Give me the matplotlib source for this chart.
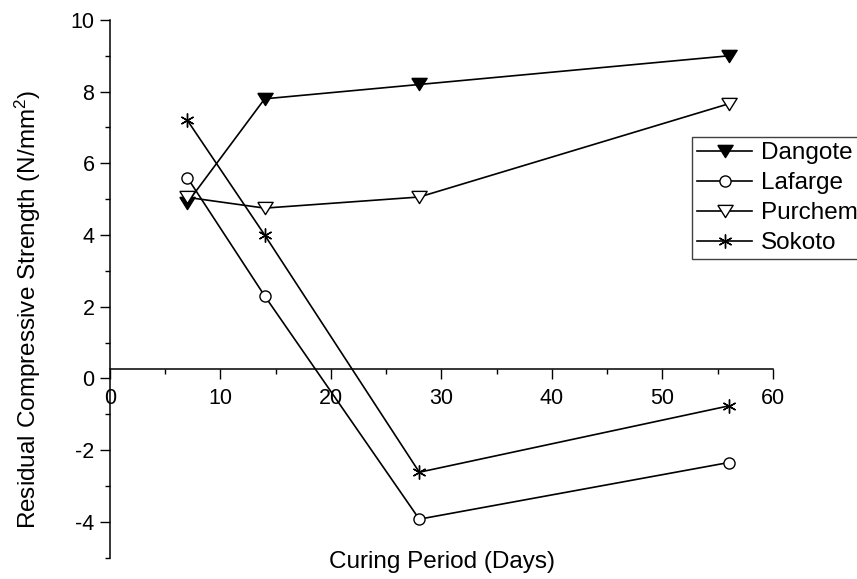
import numpy as np
import matplotlib
matplotlib.use('Agg')
import matplotlib.pyplot as plt
from matplotlib.ticker import MultipleLocator

plt.rcParams['font.family'] = ['Liberation Sans', 'DejaVu Sans']
plt.rcParams['mathtext.fontset'] = 'custom'
plt.rcParams['mathtext.rm'] = 'Liberation Sans'
plt.rcParams['mathtext.it'] = 'Liberation Sans:italic'
plt.rcParams['axes.unicode_minus'] = False

days = [7, 14, 28, 56]
dangote = [4.9, 7.8, 8.2, 9.0]
lafarge = [5.6, 2.3, -3.93, -2.35]
purchem = [5.05, 4.75, 5.06, 7.66]
sokoto = [7.2, 4.0, -2.62, -0.77]

names = ['Dangote', 'Lafarge', 'Purchem', 'Sokoto']
x_ticks = [0, 10, 20, 30, 40, 50, 60]
y_ticks = [-4, -2, 0, 2, 4, 6, 8, 10]

# closed down-pointing triangle, a bit wider than tall
tri = [(-1, 0.8), (1, 0.8), (0, -0.8), (-1, 0.8)]

fig = plt.figure(figsize=(8.57, 5.79), dpi=100)
ax = fig.add_axes([0.1284, 0.0371, 0.7733, 0.9284])

ax.plot(days, dangote, color='black', lw=1.2, marker=tri, ms=11, mfc='black', mec='black', mew=1, label=names[0])
ax.plot(days, lafarge, color='black', lw=1.2, marker='o', ms=8, mfc='white', mec='black', mew=1, label=names[1])
ax.plot(days, purchem, color='black', lw=1.2, marker=tri, ms=11, mfc='white', mec='black', mew=1, label=names[2])
ax.plot(days, sokoto, color='black', lw=1.2, marker=(6, 2, 0), ms=10, mfc='black', mec='black', mew=1, label=names[3])

ax.set_xlim(0, 60)
ax.set_ylim(-5, 10)
ax.spines['top'].set_visible(False)
ax.spines['right'].set_visible(False)
ax.spines['bottom'].set_position(('data', 0.25))
ax.spines['bottom'].set_linewidth(1.1)
ax.spines['left'].set_linewidth(1.1)

ax.set_xticks(x_ticks)
ax.set_yticks(y_ticks)
ax.xaxis.set_minor_locator(MultipleLocator(5))
ax.yaxis.set_minor_locator(MultipleLocator(1))
ax.tick_params(which='major', direction='out', length=7.2, width=1, labelsize=15.5)
ax.tick_params(axis='x', which='major', pad=6)
ax.tick_params(axis='y', which='major', pad=4)
ax.tick_params(which='minor', direction='out', length=3.5, width=1)

fig.text(442/857, 1-562/579, 'Curing Period (Days)', ha='center', va='center', fontsize=17.5)
fig.text(28/857, 1-309/579, 'Residual Compressive Strength (N/mm$^2$)', ha='center', va='center',
         rotation=90, fontsize=17.5)

leg = ax.legend(loc='upper left', bbox_to_anchor=(691.7/857, 1-137.3/579), bbox_transform=fig.transFigure,
                fontsize=17.5, numpoints=1, handlelength=2.3, handletextpad=0.35, borderpad=0.2,
                labelspacing=0.33, borderaxespad=0, fancybox=False, framealpha=1)
leg.get_frame().set_edgecolor('#404040')
leg.get_frame().set_linewidth(1)

plt.savefig('out.png', dpi=100)
